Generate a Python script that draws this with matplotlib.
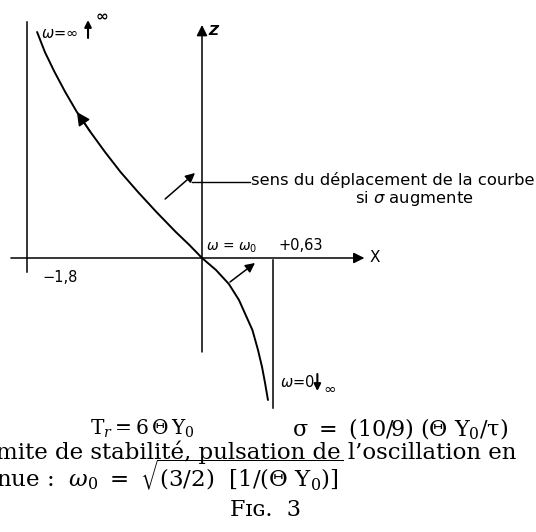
import numpy as np
import matplotlib
matplotlib.use("Agg")
import matplotlib.pyplot as plt

plt.rcParams["font.family"] = ["DejaVu Sans"]
plt.rcParams["mathtext.fontset"] = "dejavuserif"

# Nyquist-type locus Z(X) for the regulated loop (schematic units)
curve_x = [-1.70, -1.62, -1.52, -1.41, -1.29, -1.15, -1.00, -0.84, -0.66,
           -0.47, -0.27, -0.13, 0.00, 0.125, 0.24, 0.33, 0.39, 0.45, 0.50,
           0.536, 0.563, 0.589]
curve_z = [2.26, 2.06, 1.86, 1.66, 1.46, 1.26, 1.06, 0.86, 0.66,
           0.46, 0.26, 0.13, 0.00, -0.12, -0.26, -0.42, -0.57, -0.72, -0.92,
           -1.09, -1.25, -1.42]

# asymptotes of the locus
x_left = -1.8
x_right = 0.63
left_label = "\u22121,8"
right_label = "+0,63"

# piecewise linear X scale (the sketch is not drawn to one scale on both sides)
NEG, POS = 97.0, 112.0


def fwd(x):
    x = np.asarray(x, dtype=float)
    return np.where(x < 0, x * NEG, x * POS)


def inv(t):
    t = np.asarray(t, dtype=float)
    return np.where(t < 0, t / NEG, t / POS)


W, H = 536, 532
fig = plt.figure(figsize=(W / 100, H / 100), dpi=100)
fig.patch.set_facecolor("white")
ax = fig.add_axes([0, 0, 1, 1])
ax.set_xscale("function", functions=(fwd, inv))
ax.set_xlim(-202 / NEG, (W - 202) / POS)
ax.set_ylim(-2.74, 2.58)
ax.axis("off")

K = "black"
arrow_kw = dict(arrowstyle="-|>", color=K, lw=1.1, mutation_scale=14,
                shrinkA=0, shrinkB=0)

# axes X and Z
ax.annotate("", xy=(1.45, 0), xytext=(-1.97, 0),
            arrowprops=dict(arrow_kw, mutation_scale=16))
ax.annotate("", xy=(0, 2.33), xytext=(0, -0.94),
            arrowprops=dict(arrow_kw, mutation_scale=16))
ax.text(1.54, 0.0, "X", fontsize=11, va="center", ha="center")
ax.text(0.10, 2.27, "Z", fontsize=10, va="center", ha="center",
        fontweight="bold", style="italic")

# asymptotes
ax.plot([x_left, x_left], [2.36, -0.14], color=K, lw=1.1)
ax.plot([x_right, x_right], [-0.02, -1.50], color=K, lw=1.1)
ax.text(-1.65, -0.20, left_label, fontsize=10.5, va="center", ha="left")
ax.text(0.68, 0.12, right_label, fontsize=10.5, va="center", ha="left")

# the locus itself
ax.plot(curve_x, curve_z, color=K, lw=1.4, solid_capstyle="round",
        solid_joinstyle="round")
ax.annotate("", xy=(curve_x[4], curve_z[4]), xytext=(curve_x[5], curve_z[5]),
            arrowprops=dict(arrow_kw, mutation_scale=20))

# direction of displacement of the locus when sigma increases
ax.annotate("", xy=(-0.072, 0.85), xytext=(-0.38, 0.59),
            arrowprops=dict(arrow_kw, mutation_scale=14))
ax.annotate("", xy=(0.473, -0.05), xytext=(0.25, -0.24),
            arrowprops=dict(arrow_kw, mutation_scale=14))
ax.plot([-0.10, 0.43], [0.76, 0.76], color=K, lw=1.0)
ax.text(0.44, 0.78, "sens du déplacement de la courbe", fontsize=11.8,
        va="center", ha="left")
ax.text(1.90, 0.59, r"si $\sigma$ augmente", fontsize=11.8, va="center",
        ha="center", math_fontfamily="dejavusans")

# frequency marks along the locus
ax.text(-1.66, 2.24, r"$\omega$=$\infty$", fontsize=10.5, va="center",
        ha="left", math_fontfamily="dejavusans")
ax.annotate("", xy=(-1.175, 2.38), xytext=(-1.175, 2.20),
            arrowprops=dict(arrow_kw, mutation_scale=10, lw=1.5))
ax.text(-1.10, 2.43, r"$\mathbf{\infty}$", fontsize=11, va="center", ha="left",
        math_fontfamily="dejavusans")

ax.text(0.032, 0.10, r"$\omega$ = $\omega_0$", fontsize=10, va="center",
        ha="left", math_fontfamily="dejavusans")

ax.text(0.70, -1.24, r"$\omega$=0", fontsize=10.5, va="center", ha="left",
        math_fontfamily="dejavusans")
ax.annotate("", xy=(1.03, -1.33), xytext=(1.03, -1.16),
            arrowprops=dict(arrow_kw, mutation_scale=10, lw=1.5))
ax.text(1.08, -1.30, r"$\infty$", fontsize=11, va="center", ha="left",
        math_fontfamily="dejavusans")


# caption
def ftext(px, py, s, **kw):
    kw.setdefault("family", "DejaVu Serif")
    kw.setdefault("fontsize", 16)
    kw.setdefault("va", "center")
    fig.text(px / W, 1 - py / H, s, **kw)


ftext(142, 429, r"$\mathrm{T}_r = 6\,\Theta\,\mathrm{Y}_0$", ha="center",
      fontsize=14.5)
ftext(400, 429, r"$\mathrm{\sigma}\ =\ (10/9)\ (\Theta\ \mathrm{Y}_0/\mathrm{\tau})$",
      ha="center", fontsize=16)
ftext(-4, 452, "mite de stabilité, pulsation de l\u2019oscillation en", ha="left",
      fontsize=16.5)
ftext(-4, 475, r"nue :  $\omega_0\ =\ \sqrt{(3/2)\ \ [1/(\Theta\ \mathrm{Y}_0)]}$",
      ha="left", fontsize=16.5)
ftext(265, 510, "Fɪɢ.  3", ha="center", fontsize=16)

fig.savefig("out.png", dpi=100, facecolor="white")
